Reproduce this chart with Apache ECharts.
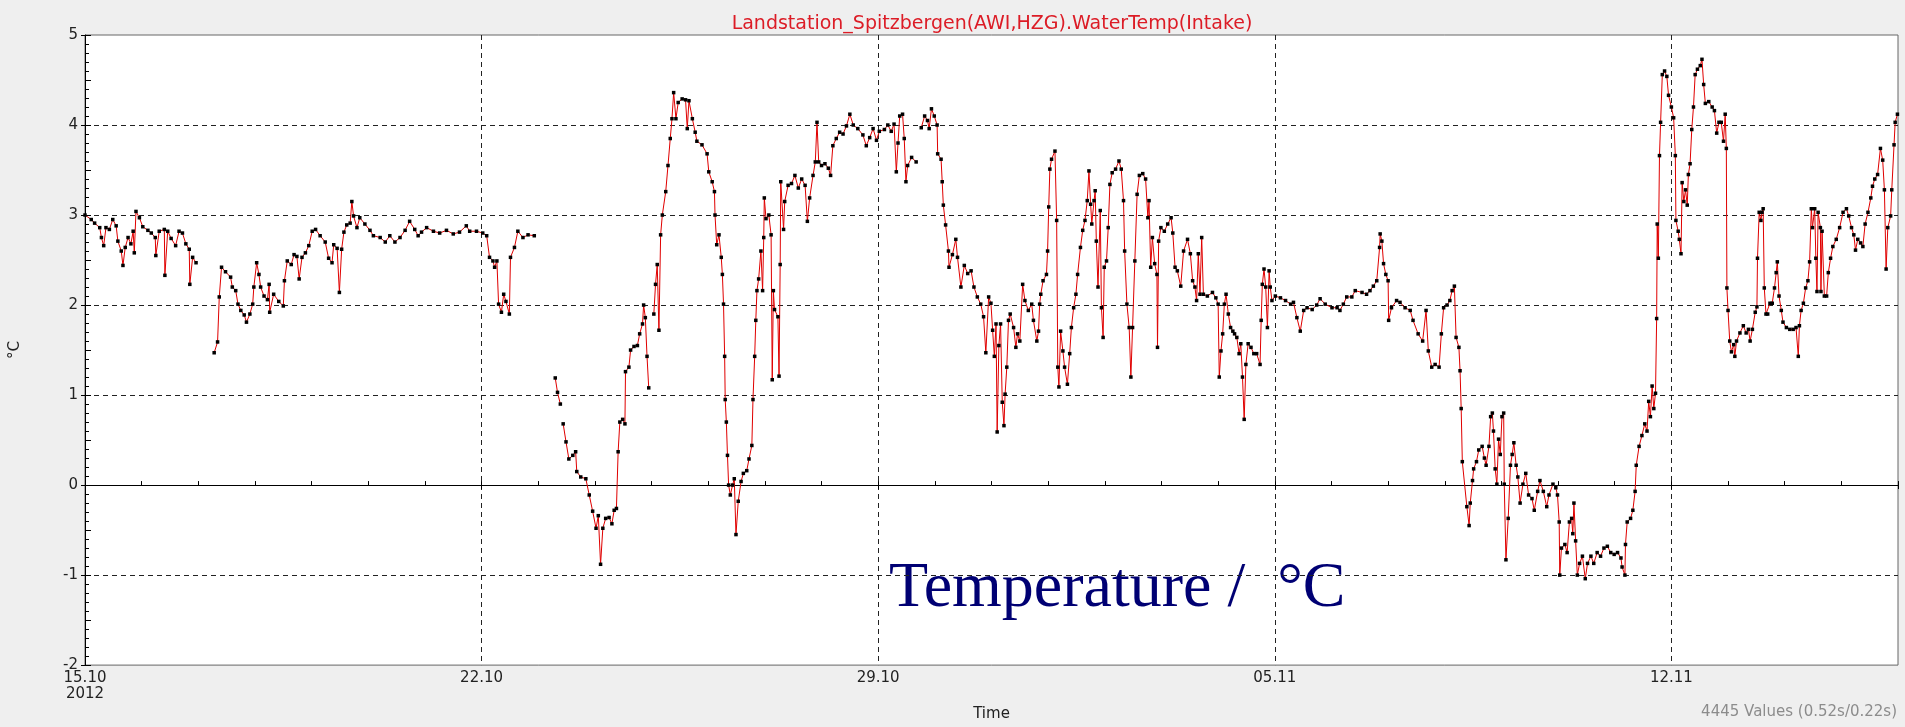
<!DOCTYPE html>
<html>
<head>
<meta charset="utf-8">
<title>WaterTemp Intake</title>
<script src="https://cdn.jsdelivr.net/npm/echarts@6/dist/echarts.min.js"></script>
<style>
  html, body { margin: 0; padding: 0; background: #efefef; }
  #chart { width: 1905px; height: 727px; }
</style>
</head>
<body>
<div id="chart"></div>
<script>
// x = days since 15.10.2012 00:00, y = water temperature in degC
var weekLabels = ['15.10\n2012', '22.10', '29.10', '05.11', '12.11'];

var segA = [[0.00,3.00],[0.11,2.95],[0.17,2.91],[0.26,2.86],[0.29,2.75],[0.33,2.66],[0.37,2.86],[0.43,2.84],[0.49,2.95],[0.55,2.88],[0.58,2.71],[0.64,2.60],[0.67,2.44],[0.71,2.64],[0.76,2.75],[0.81,2.68],[0.85,2.82],[0.87,2.58],[0.90,3.04],[0.96,2.97],[1.02,2.87],[1.11,2.83],[1.17,2.80],[1.24,2.75],[1.25,2.55],[1.31,2.82],[1.40,2.84],[1.41,2.33],[1.46,2.82],[1.52,2.74],[1.60,2.66],[1.66,2.82],[1.72,2.80],[1.78,2.68],[1.84,2.62],[1.85,2.23],[1.90,2.53],[1.96,2.47]];

var segB = [[2.28,1.47],[2.34,1.59],[2.37,2.09],[2.41,2.42],[2.48,2.37],[2.57,2.31],[2.60,2.20],[2.66,2.16],[2.70,2.01],[2.75,1.94],[2.81,1.89],[2.85,1.81],[2.91,1.90],[2.96,2.01],[2.98,2.20],[3.03,2.47],[3.07,2.34],[3.10,2.20],[3.16,2.10],[3.22,2.06],[3.25,2.23],[3.26,1.92],[3.33,2.12],[3.42,2.04],[3.50,1.99],[3.52,2.27],[3.57,2.49],[3.64,2.45],[3.69,2.56],[3.74,2.54],[3.78,2.29],[3.83,2.53],[3.89,2.58],[3.95,2.66],[4.01,2.82],[4.07,2.84],[4.15,2.77],[4.24,2.70],[4.30,2.52],[4.36,2.47],[4.39,2.67],[4.45,2.63],[4.49,2.14],[4.53,2.62],[4.57,2.81],[4.62,2.89],[4.68,2.91],[4.71,3.15],[4.74,2.99],[4.80,2.86],[4.85,2.97],[4.94,2.90],[5.03,2.83],[5.09,2.77],[5.21,2.75],[5.30,2.70],[5.38,2.77],[5.47,2.70],[5.56,2.75],[5.65,2.83],[5.73,2.93],[5.82,2.84],[5.88,2.77],[5.94,2.81],[6.03,2.86],[6.15,2.82],[6.26,2.80],[6.38,2.83],[6.50,2.79],[6.61,2.81],[6.73,2.88],[6.79,2.82],[6.91,2.82],[7.02,2.80],[7.09,2.77],[7.14,2.53],[7.20,2.49],[7.23,2.42],[7.27,2.49],[7.30,2.01],[7.35,1.92],[7.39,2.12],[7.43,2.04],[7.49,1.90],[7.51,2.53],[7.58,2.64],[7.64,2.82],[7.73,2.75],[7.82,2.78],[7.93,2.77]];

var segC = [[8.30,1.19],[8.34,1.03],[8.39,0.90]];

var segD = [[8.44,0.68],[8.49,0.48],[8.54,0.29],[8.61,0.33],[8.66,0.37],[8.68,0.15],[8.75,0.09],[8.84,0.07],[8.90,-0.11],[8.96,-0.29],[9.02,-0.48],[9.06,-0.34],[9.10,-0.88],[9.14,-0.48],[9.19,-0.37],[9.25,-0.36],[9.30,-0.43],[9.34,-0.28],[9.38,-0.26],[9.41,0.37],[9.44,0.70],[9.49,0.73],[9.53,0.68],[9.54,1.26],[9.60,1.31],[9.63,1.50],[9.69,1.54],[9.75,1.55],[9.79,1.68],[9.84,1.79],[9.86,2.00],[9.89,1.86],[9.92,1.43],[9.95,1.08]];

var segE = [[10.04,1.90],[10.07,2.23],[10.10,2.45],[10.13,1.72],[10.16,2.78],[10.19,3.00],[10.25,3.26],[10.29,3.55],[10.33,3.85],[10.36,4.07],[10.39,4.36],[10.43,4.07],[10.47,4.25],[10.54,4.29],[10.60,4.28],[10.63,3.96],[10.66,4.27],[10.72,4.07],[10.77,3.92],[10.80,3.82],[10.89,3.78],[10.98,3.68],[11.01,3.48],[11.07,3.37],[11.11,3.26],[11.12,3.00],[11.15,2.67],[11.19,2.78],[11.23,2.53],[11.25,2.34],[11.27,2.01],[11.29,1.43],[11.30,0.95],[11.32,0.70],[11.34,0.33],[11.36,0.00],[11.39,-0.11],[11.43,0.00],[11.46,0.07],[11.49,-0.55],[11.53,-0.18],[11.58,0.04],[11.62,0.13],[11.68,0.16],[11.72,0.29],[11.77,0.44],[11.79,0.95],[11.82,1.43],[11.84,1.83],[11.86,2.16],[11.89,2.29],[11.93,2.60],[11.96,2.16],[11.98,2.75],[11.99,3.19],[12.02,2.96],[12.07,3.00],[12.11,2.78],[12.13,1.17],[12.15,2.16],[12.17,1.95],[12.23,1.87],[12.25,1.21],[12.27,2.45],[12.28,3.37],[12.33,2.84],[12.35,3.15],[12.41,3.33],[12.47,3.35],[12.53,3.44],[12.59,3.30],[12.65,3.40],[12.71,3.33],[12.75,2.93],[12.79,3.19],[12.85,3.44],[12.89,3.59],[12.92,4.03],[12.95,3.59],[13.00,3.55],[13.06,3.57],[13.12,3.52],[13.16,3.44],[13.20,3.77],[13.26,3.85],[13.32,3.92],[13.38,3.90],[13.44,3.99],[13.50,4.12],[13.56,4.00],[13.64,3.96],[13.73,3.89],[13.79,3.77],[13.85,3.86],[13.91,3.96],[13.97,3.83],[14.02,3.93],[14.11,3.95],[14.17,4.00],[14.23,3.93],[14.28,4.01],[14.32,3.48],[14.35,3.80],[14.38,4.10],[14.43,4.12],[14.46,3.85],[14.49,3.37],[14.52,3.55],[14.59,3.64],[14.67,3.59]];

var segF = [[14.76,3.97],[14.82,4.10],[14.87,4.05],[14.90,3.96],[14.94,4.18],[14.99,4.10],[15.04,4.00],[15.05,3.68],[15.11,3.62],[15.13,3.37],[15.15,3.11],[15.19,2.89],[15.24,2.60],[15.25,2.42],[15.31,2.56],[15.37,2.73],[15.40,2.53],[15.46,2.20],[15.52,2.44],[15.58,2.35],[15.64,2.38],[15.69,2.20],[15.75,2.09],[15.81,2.01],[15.86,1.87],[15.90,1.47],[15.95,2.09],[15.99,2.02],[16.02,1.72],[16.05,1.43],[16.08,1.79],[16.10,0.59],[16.13,1.55],[16.16,1.79],[16.19,0.92],[16.22,0.66],[16.24,1.01],[16.27,1.31],[16.30,1.83],[16.33,1.90],[16.39,1.75],[16.43,1.53],[16.46,1.68],[16.50,1.60],[16.55,2.23],[16.59,2.05],[16.65,1.94],[16.71,2.01],[16.74,1.83],[16.80,1.60],[16.83,1.71],[16.85,2.01],[16.87,2.12],[16.91,2.27],[16.97,2.34],[16.99,2.60],[17.01,3.09],[17.03,3.51],[17.06,3.62],[17.12,3.71],[17.15,2.94],[17.17,1.31],[17.19,1.09],[17.22,1.71],[17.26,1.49],[17.29,1.31],[17.34,1.12],[17.38,1.46],[17.41,1.75],[17.45,1.97],[17.49,2.12],[17.52,2.34],[17.57,2.64],[17.61,2.83],[17.65,2.94],[17.69,3.16],[17.72,3.49],[17.75,3.12],[17.77,2.90],[17.81,3.16],[17.83,3.27],[17.85,2.71],[17.88,2.20],[17.92,3.05],[17.94,1.97],[17.97,1.64],[17.99,2.42],[18.03,2.49],[18.06,2.86],[18.09,3.34],[18.13,3.47],[18.19,3.51],[18.25,3.60],[18.29,3.51],[18.33,3.16],[18.35,2.60],[18.39,2.01],[18.43,1.75],[18.46,1.20],[18.49,1.75],[18.53,2.49],[18.57,3.23],[18.61,3.44],[18.67,3.46],[18.72,3.40],[18.76,2.97],[18.78,3.16],[18.81,2.42],[18.84,2.75],[18.88,2.46],[18.92,2.34],[18.93,1.53],[18.95,2.71],[18.99,2.86],[19.05,2.82],[19.11,2.90],[19.17,2.97],[19.20,2.80],[19.24,2.42],[19.28,2.38],[19.34,2.21],[19.39,2.60],[19.46,2.73],[19.51,2.57],[19.55,2.27],[19.59,2.20],[19.62,2.05],[19.65,2.57],[19.68,2.12],[19.71,2.75],[19.74,2.12],[19.81,2.10],[19.90,2.14],[19.96,2.08],[20.00,2.01],[20.02,1.20],[20.05,1.49],[20.08,1.68],[20.11,2.01],[20.14,2.12],[20.18,1.90],[20.22,1.75],[20.26,1.71],[20.29,1.68],[20.33,1.64],[20.37,1.46],[20.40,1.57],[20.43,1.20],[20.46,0.73],[20.49,1.34],[20.53,1.57],[20.58,1.53],[20.63,1.46],[20.68,1.46],[20.74,1.34],[20.76,1.83],[20.78,2.23],[20.81,2.40],[20.84,2.20],[20.87,1.75],[20.90,2.38],[20.92,2.20],[20.95,2.05]];

var segG = [[21.01,2.10],[21.10,2.08],[21.19,2.05],[21.28,2.01],[21.33,2.03],[21.39,1.86],[21.45,1.71],[21.51,1.94],[21.57,1.97],[21.66,1.95],[21.74,2.00],[21.80,2.07],[21.89,2.01],[22.01,1.97],[22.10,1.97],[22.15,1.94],[22.21,2.01],[22.27,2.09],[22.36,2.09],[22.42,2.16],[22.54,2.14],[22.62,2.12],[22.68,2.16],[22.74,2.21],[22.80,2.27],[22.85,2.64],[22.86,2.79],[22.89,2.71],[22.92,2.46],[22.96,2.34],[23.00,2.27],[23.01,1.83],[23.06,1.97],[23.15,2.05],[23.21,2.03],[23.30,1.97],[23.39,1.94],[23.44,1.83],[23.53,1.68],[23.61,1.60],[23.67,1.94],[23.71,1.49],[23.77,1.31],[23.83,1.34],[23.90,1.31],[23.94,1.68],[23.98,1.97],[24.04,2.00],[24.09,2.05],[24.13,2.16],[24.17,2.21],[24.20,1.64],[24.25,1.53],[24.27,1.27],[24.29,0.85],[24.31,0.26],[24.39,-0.24],[24.43,-0.45],[24.45,-0.20],[24.49,0.05],[24.51,0.18],[24.56,0.26],[24.60,0.39],[24.66,0.43],[24.70,0.30],[24.73,0.22],[24.78,0.43],[24.81,0.76],[24.84,0.80],[24.86,0.60],[24.89,0.18],[24.92,0.01],[24.95,0.51],[24.98,0.34],[25.01,0.76],[25.04,0.80],[25.05,0.01],[25.08,-0.83],[25.12,-0.37],[25.16,0.22],[25.19,0.34],[25.22,0.47],[25.26,0.22],[25.29,0.09],[25.33,-0.20],[25.38,0.01],[25.43,0.13],[25.48,-0.11],[25.54,-0.15],[25.58,-0.28],[25.64,-0.07],[25.68,0.05],[25.74,-0.07],[25.80,-0.24],[25.84,-0.11],[25.91,0.01],[25.96,-0.03],[25.99,-0.11],[26.02,-0.41],[26.03,-1.00],[26.06,-0.70],[26.12,-0.66],[26.16,-0.75],[26.20,-0.41],[26.24,-0.37],[26.26,-0.54],[26.28,-0.20],[26.31,-0.62],[26.34,-1.00],[26.38,-0.87],[26.43,-0.79],[26.48,-1.04],[26.52,-0.87],[26.58,-0.79],[26.63,-0.87],[26.69,-0.75],[26.75,-0.79],[26.81,-0.70],[26.87,-0.68],[26.93,-0.75],[26.99,-0.77],[27.05,-0.75],[27.11,-0.81],[27.13,-0.91],[27.18,-1.00],[27.19,-0.66],[27.22,-0.41],[27.28,-0.37],[27.32,-0.28],[27.36,-0.07],[27.38,0.22],[27.43,0.43],[27.48,0.55],[27.53,0.68],[27.57,0.60],[27.60,0.93],[27.63,0.76],[27.66,1.10],[27.69,0.85],[27.72,1.02],[27.74,1.85],[27.75,2.90],[27.77,2.52],[27.79,3.66],[27.81,4.03],[27.84,4.56],[27.88,4.60],[27.92,4.54],[27.95,4.33],[28.00,4.20],[28.04,4.08],[28.07,3.66],[28.08,2.94],[28.12,2.82],[28.14,2.73],[28.17,2.57],[28.19,3.36],[28.22,3.15],[28.25,3.28],[28.28,3.11],[28.30,3.45],[28.33,3.57],[28.36,3.95],[28.39,4.20],[28.42,4.56],[28.46,4.62],[28.51,4.66],[28.54,4.73],[28.57,4.45],[28.60,4.24],[28.66,4.26],[28.72,4.20],[28.76,4.16],[28.80,3.91],[28.84,4.03],[28.88,4.03],[28.92,3.82],[28.95,4.12],[28.97,3.74],[28.98,2.19],[29.00,1.94],[29.03,1.60],[29.06,1.48],[29.10,1.56],[29.12,1.43],[29.15,1.60],[29.21,1.69],[29.27,1.77],[29.32,1.69],[29.36,1.73],[29.39,1.60],[29.43,1.73],[29.48,1.92],[29.51,1.98],[29.52,2.52],[29.55,3.03],[29.58,2.94],[29.60,3.03],[29.62,3.07],[29.64,2.19],[29.67,1.90],[29.70,1.90],[29.74,2.02],[29.78,2.02],[29.82,2.19],[29.85,2.36],[29.87,2.48],[29.90,2.10],[29.94,1.94],[29.97,1.81],[30.03,1.75],[30.09,1.73],[30.15,1.73],[30.20,1.75],[30.24,1.43],[30.26,1.77],[30.29,1.94],[30.33,2.02],[30.37,2.19],[30.41,2.27],[30.44,2.48],[30.47,3.07],[30.49,2.86],[30.53,3.07],[30.55,2.52],[30.57,2.15],[30.59,3.03],[30.63,2.86],[30.64,2.15],[30.66,2.82],[30.70,2.10],[30.74,2.10],[30.77,2.36],[30.81,2.52],[30.85,2.65],[30.91,2.73],[30.97,2.86],[31.03,3.03],[31.09,3.07],[31.13,2.99],[31.18,2.86],[31.22,2.78],[31.25,2.61],[31.29,2.73],[31.34,2.69],[31.38,2.65],[31.42,2.90],[31.47,3.03],[31.52,3.19],[31.55,3.32],[31.59,3.40],[31.64,3.45],[31.69,3.74],[31.73,3.61],[31.76,3.28],[31.79,2.40],[31.82,2.86],[31.87,2.99],[31.89,3.28],[31.93,3.78],[31.95,4.03],[31.99,4.12]];

// join segments, a null point breaks the line where the logger had gaps
function joinSegs(list) {
    var out = [];
    list.forEach(function (seg, i) {
        if (i > 0) out.push([(seg[0][0] + out[out.length - 1][0]) / 2, null]);
        out = out.concat(seg);
    });
    return out;
}
var data = joinSegs([segA, segB, segC, segD, segE]).concat([[14.72, null]], segF, segG);

var chart = echarts.init(document.getElementById('chart'));
var txt = '#222';
var font = 'DejaVu Sans';

var option = {
    backgroundColor: '#efefef',
    animation: false,
    title: {
        text: 'Landstation_Spitzbergen(AWI,HZG).WaterTemp(Intake)',
        left: 987, top: 10, textAlign: 'center',
        textStyle: { color: '#dc1c26', fontSize: 19, fontWeight: 'normal', fontFamily: font }
    },
    grid: {
        left: 77, top: 35, width: 1821, height: 637,
        show: true, backgroundColor: '#fff', borderColor: '#666', borderWidth: 1
    },
    xAxis: [{
        type: 'value', min: 0, max: 32, interval: 7, position: 'bottom',
        name: 'Time', nameLocation: 'middle', nameGap: 40,
        nameTextStyle: { color: txt, fontSize: 15, fontFamily: font },
        axisLine: { lineStyle: { color: '#000', width: 1 } },
        axisTick: { length: 4, lineStyle: { color: '#000' } },
        axisLabel: {
            color: txt, fontSize: 15, fontFamily: font, margin: 5, lineHeight: 16,
            formatter: function (v) { return v % 7 === 0 ? weekLabels[v / 7] : ''; }
        },
        splitLine: { show: true, showMinLine: false, showMaxLine: false,
            lineStyle: { color: '#222', type: [5, 4], width: 1 } }
    }, {
        type: 'value', min: 0, max: 32, interval: 1, position: 'bottom',
        axisLine: { show: false },
        axisTick: { inside: true, length: 4, lineStyle: { color: '#000' } },
        axisLabel: { show: false }, splitLine: { show: false }
    }],
    yAxis: [{
        type: 'value', min: -2, max: 5, interval: 1, position: 'left',
        name: '°C', nameLocation: 'middle', nameGap: 62, nameRotate: 90,
        nameTextStyle: { color: txt, fontSize: 15, fontFamily: font },
        axisLine: { show: true, lineStyle: { color: '#000', width: 1 } },
        axisTick: { length: 4, lineStyle: { color: '#000' } },
        axisLabel: { color: txt, fontSize: 15, fontFamily: font, margin: 7 },
        splitLine: { show: true, showMinLine: false, showMaxLine: false,
            lineStyle: { color: '#222', type: [5, 4], width: 1 } }
    }, {
        type: 'value', min: -2, max: 5, interval: 0.5, position: 'left',
        axisLine: { show: false },
        axisTick: { inside: true, length: 6, lineStyle: { color: '#000' } },
        axisLabel: { show: false }, splitLine: { show: false }
    }, {
        type: 'value', min: -2, max: 5, interval: 0.1, position: 'left',
        axisLine: { show: false },
        axisTick: { inside: true, length: 4, lineStyle: { color: '#000' } },
        axisLabel: { show: false }, splitLine: { show: false }
    }],
    series: [{
        type: 'line', xAxisIndex: 0, yAxisIndex: 0,
        data: data, connectNulls: false, silent: true,
        symbol: 'rect', symbolSize: 3.5, showSymbol: true,
        itemStyle: { color: '#000' },
        lineStyle: { color: '#e00000', width: 1 }
    }],
    graphic: [{
        type: 'text', x: 889, y: 589,
        style: { text: 'Temperature /  °C', font: '64px "Liberation Serif"', fill: '#000073',
            align: 'left', verticalAlign: 'middle' }
    }, {
        type: 'text', x: 1897, y: 712,
        style: { text: '4445 Values (0.52s/0.22s)', font: '15px "DejaVu Sans"', fill: '#8c8c8c',
            align: 'right', verticalAlign: 'middle' }
    }]
};
chart.setOption(option);
window.addEventListener('resize', function () { chart.resize(); });
</script>
</body>
</html>
